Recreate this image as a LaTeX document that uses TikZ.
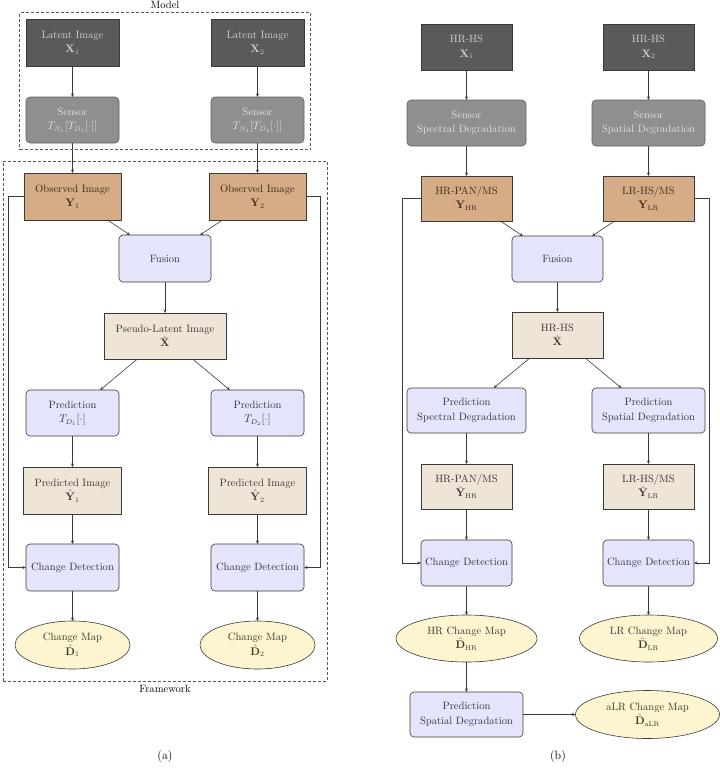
\documentclass[tikz,border=0pt]{standalone}
\usepackage{amsmath}
\usetikzlibrary{shapes.geometric,arrows.meta,fit,positioning}
\definecolor{latfill}{HTML}{5A5A5A}
\definecolor{lattext}{HTML}{D2D2D2}
\definecolor{senfill}{HTML}{8F8F8F}
\definecolor{sentext}{HTML}{E2E2E2}
\definecolor{obsfill}{HTML}{D6AC87}
\definecolor{obstext}{HTML}{3A2A1A}
\definecolor{procfill}{HTML}{E4E4FA}
\definecolor{proctext}{HTML}{333350}
\definecolor{estfill}{HTML}{EFE5D7}
\definecolor{esttext}{HTML}{3A3530}
\definecolor{mapfill}{HTML}{FCF5CF}
\definecolor{maptext}{HTML}{3A3A30}
\definecolor{linecol}{HTML}{3A3A3A}
\begin{document}
\begin{tikzpicture}[x=1pt,y=-1pt,
  font=\fontsize{10.6}{14.5}\selectfont,
  base/.style={draw=linecol,line width=0.6pt,align=center,inner sep=0pt,outer sep=0pt},
  latent/.style={base,rectangle,fill=latfill,text=lattext},
  sensor/.style={base,rectangle,rounded corners=4pt,fill=senfill,text=sentext,draw=linecol!80},
  obs/.style={base,rectangle,fill=obsfill,text=obstext},
  proc/.style={base,rectangle,rounded corners=4pt,fill=procfill,text=proctext},
  est/.style={base,rectangle,fill=estfill,text=esttext},
  cmap/.style={base,ellipse,fill=mapfill,text=maptext},
  arr/.style={draw=linecol,line width=0.6pt,-{Stealth[length=3.5pt,width=3pt]}},
  frame/.style={draw=linecol!85,line width=0.6pt,dash pattern=on 3pt off 2pt,inner sep=0pt}]
\useasboundingbox (0,0) rectangle (720,777);

% ---------------- (a) ----------------
\node[latent,minimum width=93pt,minimum height=47pt] (lat1) at (72.5,42.5) {Latent Image\\$\mathbf{X}_1$};
\node[latent,minimum width=93pt,minimum height=47pt] (lat2) at (257.5,42.5) {Latent Image\\$\mathbf{X}_2$};
\node[sensor,minimum width=93pt,minimum height=46pt] (sen1) at (72.5,120) {Sensor\\$T_{N_1}[T_{D_1}[\cdot]]$};
\node[sensor,minimum width=93pt,minimum height=46pt] (sen2) at (257.5,120) {Sensor\\$T_{N_2}[T_{D_2}[\cdot]]$};
\node[obs,minimum width=97pt,minimum height=47pt] (obs1) at (72.5,196.5) {Observed Image\\$\mathbf{Y}_1$};
\node[obs,minimum width=97pt,minimum height=47pt] (obs2) at (257.5,196.5) {Observed Image\\$\mathbf{Y}_2$};
\node[proc,minimum width=92pt,minimum height=47pt] (fus) at (165,258.5) {Fusion};
\node[est,minimum width=122pt,minimum height=46pt] (pse) at (165,336) {Pseudo-Latent Image\\$\hat{\mathbf{X}}$};
\node[proc,minimum width=93pt,minimum height=46pt] (pre1) at (72.5,413) {Prediction\\$T_{D_1}[\cdot]$};
\node[proc,minimum width=93pt,minimum height=46pt] (pre2) at (257.5,413) {Prediction\\$T_{D_2}[\cdot]$};
\node[est,minimum width=98pt,minimum height=47pt] (ped1) at (72.5,490.5) {Predicted Image\\$\hat{\mathbf{Y}}_1$};
\node[est,minimum width=98pt,minimum height=47pt] (ped2) at (257.5,490.5) {Predicted Image\\$\hat{\mathbf{Y}}_2$};
\node[proc,minimum width=93pt,minimum height=47pt] (cd1) at (72.5,567.5) {Change Detection};
\node[proc,minimum width=93pt,minimum height=47pt] (cd2) at (257.5,567.5) {Change Detection};
\node[cmap,minimum width=115pt,minimum height=48pt] (map1) at (72.5,645) {Change Map\\$\hat{\mathbf{D}}_1$};
\node[cmap,minimum width=115pt,minimum height=48pt] (map2) at (257.5,645) {Change Map\\$\hat{\mathbf{D}}_2$};

\node[frame,fit=(lat1)(sen2),inner sep=6.5pt] (model) {};
\node[above=0.5pt of model.north] (modellbl) {Model};
\node[frame,fit=(obs1)(obs2)(map1)(map2),inner sep=12pt] (fw) {};
\node[below=0.5pt of fw.south] (fwlbl) {Framework};

\draw[arr] (lat1) -- (sen1);
\draw[arr] (lat2) -- (sen2);
\draw[arr] (sen1) -- (obs1);
\draw[arr] (sen2) -- (obs2);
\draw[arr] (obs1) -- (fus);
\draw[arr] (obs2) -- (fus);
\draw[arr] (fus) -- (pse);
\draw[arr] (pse) -- (pre1);
\draw[arr] (pse) -- (pre2);
\draw[arr] (pre1) -- (ped1);
\draw[arr] (pre2) -- (ped2);
\draw[arr] (ped1) -- (cd1);
\draw[arr] (ped2) -- (cd2);
\draw[arr] (cd1) -- (map1);
\draw[arr] (cd2) -- (map2);
\draw[arr] (obs1.west) -- ++(-16,0) |- (cd1.west);
\draw[arr] (obs2.east) -- ++(14,0) |- (cd2.east);

\node[font=\fontsize{12}{14}\selectfont] (capa) at (165,756) {(a)};

% ---------------- (b) ----------------
\node[latent,minimum width=91pt,minimum height=46pt] (hr1) at (466.5,47) {HR-HS\\$\mathbf{X}_1$};
\node[latent,minimum width=91pt,minimum height=46pt] (hr2) at (648.5,47) {HR-HS\\$\mathbf{X}_2$};
\node[sensor,minimum width=119pt,minimum height=46pt] (bsen1) at (466.5,123) {Sensor\\Spectral Degradation};
\node[sensor,minimum width=113pt,minimum height=46pt] (bsen2) at (648.5,123) {Sensor\\Spatial Degradation};
\node[obs,minimum width=91pt,minimum height=45pt] (bobs1) at (466.5,198.5) {HR-PAN/MS\\$\mathbf{Y}_{\mathrm{HR}}$};
\node[obs,minimum width=91pt,minimum height=45pt] (bobs2) at (648.5,198.5) {LR-HS/MS\\$\mathbf{Y}_{\mathrm{LR}}$};
\node[proc,minimum width=91pt,minimum height=46pt] (bfus) at (557.5,259) {Fusion};
\node[est,minimum width=91pt,minimum height=46pt] (bhat) at (557.5,335) {HR-HS\\$\hat{\mathbf{X}}$};
\node[proc,minimum width=119pt,minimum height=45pt] (bpre1) at (466.5,410.5) {Prediction\\Spectral Degradation};
\node[proc,minimum width=113pt,minimum height=45pt] (bpre2) at (648.5,410.5) {Prediction\\Spatial Degradation};
\node[est,minimum width=91pt,minimum height=45pt] (bped1) at (466.5,486.5) {HR-PAN/MS\\$\hat{\mathbf{Y}}_{\mathrm{HR}}$};
\node[est,minimum width=91pt,minimum height=45pt] (bped2) at (648.5,486.5) {LR-HS/MS\\$\hat{\mathbf{Y}}_{\mathrm{LR}}$};
\node[proc,minimum width=91pt,minimum height=46pt] (bcd1) at (466.5,563) {Change Detection};
\node[proc,minimum width=91pt,minimum height=46pt] (bcd2) at (648.5,563) {Change Detection};
\node[cmap,minimum width=141pt,minimum height=47pt] (bmap1) at (466.5,638.5) {HR Change Map\\$\hat{\mathbf{D}}_{\mathrm{HR}}$};
\node[cmap,minimum width=138pt,minimum height=47pt] (bmap2) at (648.5,638.5) {LR Change Map\\$\hat{\mathbf{D}}_{\mathrm{LR}}$};
\node[proc,minimum width=113pt,minimum height=45pt] (bpre3) at (466.5,714.5) {Prediction\\Spatial Degradation};
\node[cmap,minimum width=144pt,minimum height=48pt] (bmap3) at (647.5,714.5) {aLR Change Map\\$\hat{\mathbf{D}}_{\mathrm{aLR}}$};

\draw[arr] (hr1) -- (bsen1);
\draw[arr] (hr2) -- (bsen2);
\draw[arr] (bsen1) -- (bobs1);
\draw[arr] (bsen2) -- (bobs2);
\draw[arr] (bobs1) -- (bfus);
\draw[arr] (bobs2) -- (bfus);
\draw[arr] (bfus) -- (bhat);
\draw[arr] (bhat) -- (bpre1);
\draw[arr] (bhat) -- (bpre2);
\draw[arr] (bpre1) -- (bped1);
\draw[arr] (bpre2) -- (bped2);
\draw[arr] (bped1) -- (bcd1);
\draw[arr] (bped2) -- (bcd2);
\draw[arr] (bcd1) -- (bmap1);
\draw[arr] (bcd2) -- (bmap2);
\draw[arr] (bmap1) -- (bpre3);
\draw[arr] (bpre3) -- (bmap3);
\draw[arr] (bobs1.west) -- ++(-19,0) |- (bcd1.west);
\draw[arr] (bobs2.east) -- ++(15,0) |- (bcd2.east);

\node[font=\fontsize{12}{14}\selectfont] (capb) at (558,756) {(b)};
\end{tikzpicture}
\end{document}
